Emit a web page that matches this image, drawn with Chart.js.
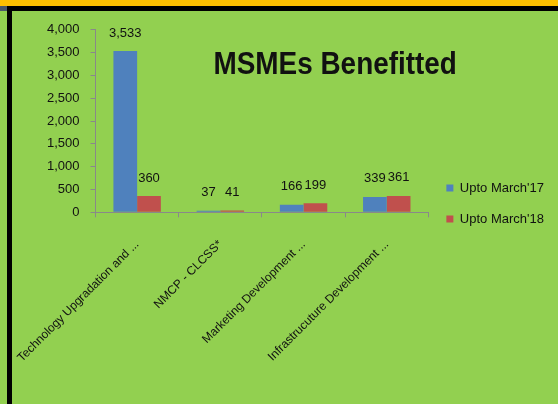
<!DOCTYPE html>
<html>
<head>
<meta charset="utf-8">
<script src="https://cdn.jsdelivr.net/npm/chart.js@4.4.1/dist/chart.umd.min.js"></script>
<style>
  html, body { margin: 0; padding: 0; }
  body { width: 558px; height: 404px; background: #92D050; position: relative; overflow: hidden; }
  #topbar { position: absolute; left: 0; top: 0; width: 558px; height: 6px; background: #FFC000; }
  #corner { position: absolute; left: 0; top: 6px; width: 7px; height: 5px; background: #4A5868; }
  #frame { position: absolute; left: 7px; top: 6px; width: 551px; height: 398px;
           border-left: 5px solid #000; border-top: 5px solid #000; box-sizing: border-box; background: #92D050; }
  #wrap { position: absolute; left: 12px; top: 11px; width: 546px; height: 387px; }
  #title { position: absolute; left: 200px; top: 46px; width: 270px; text-align: center;
           font: bold 31px 'Liberation Sans', Arial, sans-serif; color: #111;
           transform: scaleX(0.9); transform-origin: center; white-space: nowrap; }
</style>
</head>
<body>
<div id="topbar"></div>
<div id="corner"></div>
<div id="frame"></div>
<div id="wrap"><canvas id="msmeChart"></canvas></div>
<div id="title">MSMEs Benefitted</div>
<script>
    // Chart data
    const categories = ['Technology Upgradation and ...', 'NMCP - CLCSS*', 'Marketing Development ...', 'Infrastrucuture Development ...'];
    const uptoMarch17 = [3533, 37, 166, 339];
    const uptoMarch18 = [360, 41, 199, 361];
    const seriesNames = ["Upto March'17", "Upto March'18"];
    const yTicks = [0, 500, 1000, 1500, 2000, 2500, 3000, 3500, 4000];

    const textFont = "'Liberation Sans', Arial, sans-serif";
    const axisColor = '#898989';

    // draws the value above every bar
    const valueLabels = {
        id: 'valueLabels',
        afterDatasetsDraw(chart) {
            const ctx = chart.ctx;
            ctx.save();
            ctx.font = '13px ' + textFont;
            ctx.fillStyle = '#111';
            ctx.textAlign = 'center';
            ctx.textBaseline = 'middle';
            chart.data.datasets.forEach(function(ds, i) {
                chart.getDatasetMeta(i).data.forEach(function(bar, j) {
                    ctx.fillText(ds.data[j].toLocaleString('en-US'), bar.x, bar.y - 18);
                });
            });
            ctx.restore();
        }
    };

    const ctx = document.getElementById('msmeChart').getContext('2d');
    const msmeChart = new Chart(ctx, {
        type: 'bar',
        data: {
            labels: categories,
            datasets: [{
                label: seriesNames[0],
                data: uptoMarch17,
                backgroundColor: '#4F81BD'
            }, {
                label: seriesNames[1],
                data: uptoMarch18,
                backgroundColor: '#C0504D'
            }]
        },
        options: {
            responsive: true,
            maintainAspectRatio: false,
            animation: false,
            datasets: {
                bar: { categoryPercentage: 0.57, barPercentage: 1.0 }
            },
            layout: {
                padding: { left: 24, top: 11, right: 4, bottom: 13 }
            },
            plugins: {
                legend: {
                    position: 'right',
                    labels: {
                        boxWidth: 7,
                        boxHeight: 7,
                        padding: 18,
                        color: '#111',
                        font: { family: textFont, size: 13 }
                    }
                },
                tooltip: { enabled: false }
            },
            scales: {
                x: {
                    // rotated labels may run under the y axis, like the original
                    afterFit: function(scale) { scale.paddingLeft = 0; },
                    grid: { drawOnChartArea: false, color: axisColor, tickLength: 5 },
                    border: { color: axisColor, width: 1 },
                    ticks: {
                        color: '#111',
                        font: { family: textFont, size: 12 },
                        minRotation: 45,
                        maxRotation: 45,
                        autoSkip: false,
                        padding: 20
                    }
                },
                y: {
                    min: 0,
                    max: 4000,
                    afterBuildTicks: function(axis) {
                        axis.ticks = yTicks.map(v => ({ value: v }));
                    },
                    grid: { drawOnChartArea: false, color: axisColor, tickLength: 5 },
                    border: { color: axisColor, width: 1 },
                    ticks: {
                        color: '#111',
                        font: { family: textFont, size: 13 },
                        padding: 11,
                        callback: function(v) { return v.toLocaleString('en-US'); }
                    }
                }
            }
        },
        plugins: [valueLabels]
    });
</script>
</body>
</html>
